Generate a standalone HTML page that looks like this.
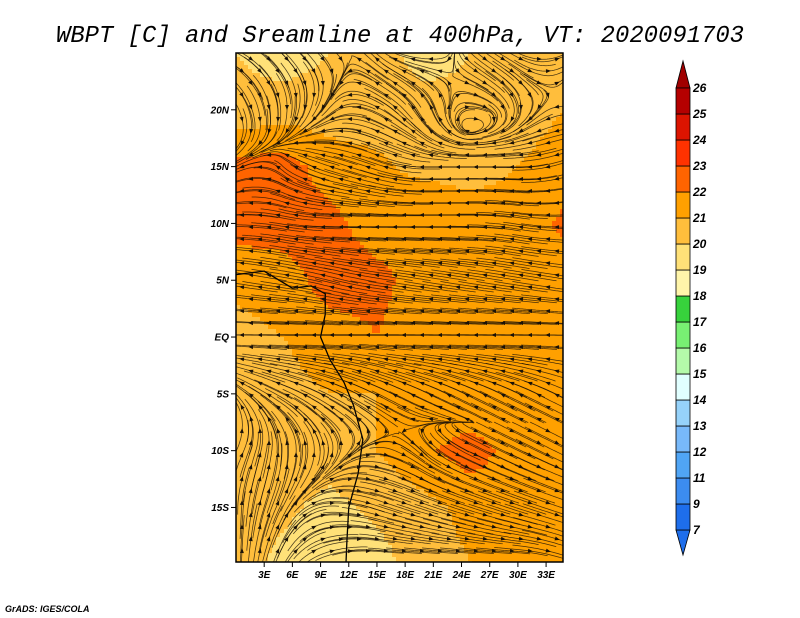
<!DOCTYPE html>
<html><head><meta charset="utf-8"><style>
html,body{margin:0;padding:0;background:#fff;width:800px;height:618px;overflow:hidden}
svg{display:block}
.t{font-family:"Liberation Sans",sans-serif;font-style:italic;font-weight:bold;font-size:10px;fill:#000}
</style></head><body>
<svg id="chart" width="800" height="618" viewBox="0 0 800 618" xmlns="http://www.w3.org/2000/svg">
<text x="400" y="42" text-anchor="middle" textLength="688" lengthAdjust="spacingAndGlyphs" style="font-family:'Liberation Mono',monospace;font-style:italic;font-size:24px">WBPT [C] and Sreamline at 400hPa, VT: 2020091703</text>
<defs><clipPath id="mapclip"><rect x="236" y="53" width="327" height="509"/></clipPath></defs>
<g id="field" clip-path="url(#mapclip)"></g>
<g id="coast" clip-path="url(#mapclip)"></g>
<g id="stream" clip-path="url(#mapclip)"></g>
<rect x="236" y="53" width="327" height="509" fill="none" stroke="#000" stroke-width="1.5"/>
<g id="axes"></g>
<g id="cbar"></g>
<text x="5" y="612" class="t" style="font-size:9px">GrADS: IGES/COLA</text>
</svg>
<script>
// ---- data ----
const lats = [25,20,15,10,5,0,-5,-10,-15,-20];
const lons = [0,5,10,15,20,25,30,35];
const wbpt = [
 [20,19.5,20,20.5,19.5,20,20.5,20.5],
 [20.3,20.5,20.5,20.5,20.5,20.3,20.5,21],
 [22.3,22.5,21.5,21.2,20.7,20.5,21,21.5],
 [22.5,22.5,22.3,21.5,22,21.7,21.5,22.2],
 [21.2,21.5,22.5,22.3,21.5,21.5,21.5,21.5],
 [20.7,21,21.5,22,21.5,21.2,21.2,21],
 [20.5,20.7,21,21,21.2,21,21.2,21],
 [20.5,20.5,20.5,21,21.8,22.5,21.5,21.2],
 [20.5,20.2,19.7,20.2,20.7,21.3,21.5,21.2],
 [20.5,19.7,19.5,19.6,20.5,21,21.2,21]];
const uWind = [
 [2,2,1,-1,-2,1,2,2],[1,0,-1,-2,-1,1,0,-1],[-2,-1,-3,-3,-2,-2,-3,-3],
 [-3,-3,-3,-3,-3,-3,-3,-3],[-3,-3,-3,-3,-3,-3,-3,-3],[-3,-3,-3,-2,-3,-3,-3,-3],
 [-1,-2,-2,-2,-2,-2,-2,-2],[1,0,0,1,1,2,2,2],[0,1,2,3,3,3,3,3],[0,1,3,3,3,3,3,3]];
const vWind = [
 [-1,-2,-1,1,0,-1,-1,1],[-2,-2,-1,1,2,0,-1,0],[-1,1,1,1,0,0,0,-1],
 [0,0.5,0,0,0,0,0.5,0],[0.5,0.5,0.8,0.5,0.5,0.5,0.5,0.5],[0,0,0,0,0,0,0,0],
 [1,1,1,1,1,1,1,1],[2,2,1,0,-1,-1,-1,-1],[2,2,0,-1,-1,-1,-1,-1],[3,2,1,0,0,0,0,-1]];
const levels = [7,9,11,12,13,14,15,16,17,18,19,20,21,22,23,24,25,26];
const levelColors = ["#1e6eeb","#3c8cf0","#50a5f5","#78b9fa","#96d2fa","#e1ffff","#b4faaa","#78f073","#37d23c","#fff5aa","#ffe178","#ffbe3c","#ffa000","#ff6400","#ff3200","#dc1400","#b40000"];
const latTicks = [20,15,10,5,0,-5,-10,-15];
const lonTicks = [3,6,9,12,15,18,21,24,27,30,33];
const coastLon = [0,3,6,8,9.5,9.5,9,10,11.5,12.5,13.5,13,12,11.8,11.7];
const coastLat = [5.5,5.8,4.3,4.5,3.8,2,0,-2,-4,-6,-9,-12,-15,-18,-20];

// ---- axes ----
const X0=236,X1=563,Y0=53,Y1=562,LON0=0,LON1=34.8,LAT0=25,LAT1=-19.8;
const xs=lon=>X0+(lon-LON0)/(LON1-LON0)*(X1-X0);
const ys=lat=>Y0+(LAT0-lat)/(LAT0-LAT1)*(Y1-Y0);
const NS="http://www.w3.org/2000/svg";
function mk(tag,attrs,parent){const e=document.createElementNS(NS,tag);for(const k in attrs)e.setAttribute(k,attrs[k]);parent.appendChild(e);return e;}
function interp(grid,lon,lat){
 let fi=(LAT0-lat)/5, fj=lon/5;
 fi=Math.max(0,Math.min(lats.length-1.0001,fi)); fj=Math.max(0,Math.min(lons.length-1.0001,fj));
 const i=Math.floor(fi),j=Math.floor(fj),a=fi-i,b=fj-j;
 return grid[i][j]*(1-a)*(1-b)+grid[i+1][j]*a*(1-b)+grid[i][j+1]*(1-a)*b+grid[i+1][j+1]*a*b;
}
function colorFor(v){for(let k=levels.length-2;k>=0;k--){if(v>=levels[k])return levelColors[k];}return levelColors[0];}

// field
const field=document.getElementById('field');
const step=4;
for(let y=Y0;y<Y1;y+=step){for(let x=X0;x<X1;x+=step){
 const lon=LON0+(x+step/2-X0)/(X1-X0)*(LON1-LON0), lat=LAT0-(y+step/2-Y0)/(Y1-Y0)*(LAT0-LAT1);
 const r=mk('rect',{x:x,y:y,width:step+0.5,height:step+0.5,fill:colorFor(interp(wbpt,lon,lat))},field);
 
 
}}

// coastline
const cp=mk('polyline',{points:coastLon.map((l,i)=>xs(l)+','+ys(coastLat[i])).join(' '),fill:'none',stroke:'#000','stroke-width':1.3},document.getElementById('coast'));



// streamlines
const sg=document.getElementById('stream');
function vel(x,y){const lon=(x-X0)/(X1-X0)*(LON1-LON0),lat=LAT0-(y-Y0)/(Y1-Y0)*(LAT0-LAT1);
 const u=interp(uWind,lon,lat),v=interp(vWind,lon,lat);const m=Math.hypot(u,v)||1;return [u/m,-v/m];}
function trace(x,y,dir,n){const pts=[];for(let k=0;k<n;k++){const [dx,dy]=vel(x,y);x+=dir*dx*2;y+=dir*dy*2;if(x<X0-5||x>X1+5||y<Y0-5||y>Y1+5)break;pts.push([x,y]);}return pts;}
let row=0;
for(let sy=Y0+6;sy<Y1;sy+=12){row++;for(let sx=X0+6+(row%2)*9;sx<X1;sx+=18){
 const back=trace(sx,sy,-1,18).reverse(),fwd=trace(sx,sy,1,18);
 const pts=back.concat([[sx,sy]],fwd);if(pts.length<4)continue;
 const p=mk('polyline',{points:pts.map(q=>q[0].toFixed(1)+','+q[1].toFixed(1)).join(' '),fill:'none',stroke:'#1a1208','stroke-width':0.75,'stroke-opacity':0.8},sg);
 
 
 const [dx,dy]=vel(sx,sy),nx=-dy,ny=dx;
 const a=mk('polygon',{points:`${sx+dx*3},${sy+dy*3} ${sx-dx*2+nx*2},${sy-dy*2+ny*2} ${sx-dx*2-nx*2},${sy-dy*2-ny*2}`,fill:'#1a1208'},sg);
 
 
}}

// axis ticks
const ax=document.getElementById('axes');
latTicks.forEach(l=>{const y=ys(l);
 mk('line',{x1:231,x2:236,y1:y,y2:y,stroke:'#000'},ax);
 const t=mk('text',{x:229,y:y+3.5,'text-anchor':'end',class:'t'},ax);
 t.textContent=l===0?'EQ':Math.abs(l)+(l>0?'N':'S');
 
 
});
lonTicks.forEach(l=>{const x=xs(l);
 mk('line',{x1:x,x2:x,y1:562,y2:567,stroke:'#000'},ax);
 const t=mk('text',{x:x,y:578,'text-anchor':'middle',class:'t'},ax);
 t.textContent=l+'E';
 
 
});

// colorbar
const cb=document.getElementById('cbar');
const CBX=676,CBW=14,CBT=88,CBH=26;
const nb=levelColors.length;
mk('polygon',{points:`${CBX},${CBT} ${CBX+CBW},${CBT} ${CBX+CBW/2},${CBT-27}`,fill:'#a00000',stroke:'#000','stroke-width':0.8},cb);
mk('polygon',{points:`${CBX},${CBT+nb*CBH} ${CBX+CBW},${CBT+nb*CBH} ${CBX+CBW/2},${CBT+nb*CBH+25}`,fill:'#1e6eeb',stroke:'#000','stroke-width':0.8},cb);
for(let k=0;k<nb;k++){
 const r=mk('rect',{x:CBX,y:CBT+(nb-1-k)*CBH,width:CBW,height:CBH,fill:levelColors[k],stroke:'#000','stroke-width':0.8},cb);
 
 
}
levels.forEach((lv,k)=>{const y=CBT+(nb-k)*CBH;
 const t=mk('text',{x:693,y:y+4,class:'t',style:'font-size:12px'},cb);
 t.textContent=lv;
 
 
});
</script>
</body></html>
